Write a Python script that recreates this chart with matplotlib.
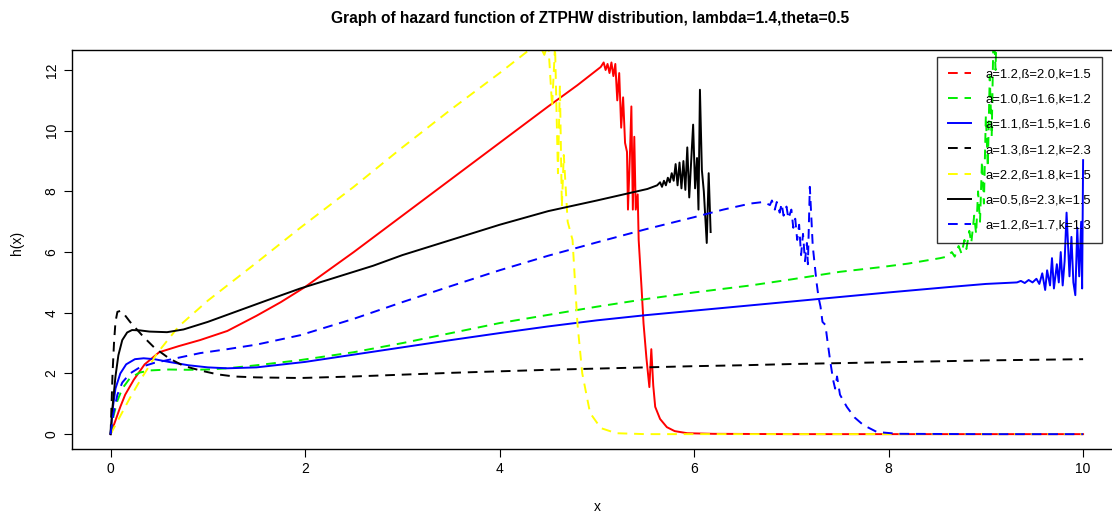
import matplotlib
matplotlib.use("Agg")
import matplotlib.pyplot as plt
from matplotlib.lines import Line2D

plt.rcParams['font.family'] = ['Liberation Sans', 'DejaVu Sans']

# Data
red_x = [0, 0.05, 0.1, 0.15, 0.24, 0.35, 0.5, 0.7, 0.92, 1.2, 1.5, 1.75, 2.0, 2.5, 3.0, 3.5, 4.0, 4.5, 4.8, 5.0,
         5.04, 5.07, 5.09, 5.11, 5.13, 5.15, 5.17, 5.19, 5.21, 5.23, 5.25, 5.27, 5.29, 5.31, 5.32, 5.34, 5.355,
         5.37, 5.385, 5.40, 5.42, 5.43, 5.46, 5.48, 5.51, 5.54, 5.56, 5.58, 5.6, 5.65, 5.72, 5.8, 5.93, 6.2,
         7, 8, 9, 10]
red_y = [0, 0.45, 0.9, 1.3, 1.8, 2.3, 2.7, 2.9, 3.1, 3.4, 3.9, 4.35, 4.85, 6.0, 7.2, 8.4, 9.6, 10.8, 11.5, 12.0,
         12.1, 12.25, 12.0, 12.2, 11.9, 12.25, 11.8, 12.2, 11.0, 11.9, 10.1, 11.1, 9.6, 9.3, 7.4, 9.2, 10.8,
         7.4, 9.8, 7.4, 7.9, 6.4, 4.8, 3.65, 2.5, 1.55, 2.8, 1.6, 0.9, 0.5, 0.23, 0.1, 0.03, 0.01,
         0, 0, 0, 0]

green_x = [0, 0.03, 0.07, 0.12, 0.2, 0.3, 0.41, 0.6, 0.8, 1.0, 1.2, 1.5, 1.95, 2.5, 3.0, 3.5, 4.0, 4.5, 5.0,
           5.5, 6.0, 6.58, 7.0, 7.5, 7.91, 8.2, 8.53, 8.6, 8.65, 8.68, 8.72, 8.75, 8.78, 8.8, 8.83, 8.85, 8.88,
           8.9, 8.92, 8.94, 8.96, 8.98, 9.0, 9.02, 9.04, 9.06, 9.08, 9.1, 9.13, 9.16]
green_y = [0, 0.6, 1.1, 1.5, 1.85, 2.03, 2.1, 2.13, 2.12, 2.13, 2.17, 2.27, 2.44, 2.7, 3.0, 3.33, 3.66, 3.93, 4.2,
           4.45, 4.67, 4.9, 5.1, 5.35, 5.5, 5.62, 5.8, 5.85, 6.0, 5.85, 6.2, 5.95, 6.4, 6.1, 6.7, 6.3, 7.2,
           6.6, 8.0, 7.0, 9.0, 7.6, 10.5, 8.8, 11.8, 9.8, 13.5, 12.0, 16, 25]

blue_x = [0, 0.02, 0.05, 0.1, 0.16, 0.25, 0.34, 0.45, 0.6, 0.8, 1.0, 1.2, 1.5, 2.0, 2.5, 3.0, 3.5, 4.0, 4.5,
          5.0, 5.5, 6.0, 6.5, 7.0, 7.5, 8.0, 8.63, 9.0, 9.32, 9.36, 9.4, 9.44, 9.48, 9.52, 9.55, 9.58, 9.61,
          9.63, 9.66, 9.68, 9.7, 9.73, 9.75, 9.77, 9.79, 9.81, 9.83, 9.86, 9.88, 9.9, 9.92, 9.94, 9.96, 9.98,
          9.99, 10.0]
blue_y = [0, 0.8, 1.5, 2.0, 2.3, 2.47, 2.5, 2.47, 2.38, 2.27, 2.2, 2.17, 2.2, 2.38, 2.62, 2.86, 3.1, 3.33, 3.55,
          3.75, 3.92, 4.07, 4.22, 4.37, 4.52, 4.67, 4.85, 4.95, 5.0, 5.05, 4.98, 5.08, 5.0, 5.12, 4.95, 5.3, 4.75,
          5.4, 4.9, 5.8, 4.8, 5.6, 5.0, 6.0, 4.9, 5.7, 7.3, 5.2, 6.5, 5.0, 4.58, 6.8, 5.2, 7.0,
          4.8, 9.03]

black_dash_x = [0, 0.01, 0.02, 0.035, 0.05, 0.07, 0.1, 0.14, 0.2, 0.27, 0.34, 0.45, 0.6, 0.75, 0.92, 1.1, 1.27,
                1.5, 1.95, 2.5, 3.0, 3.5, 4.0, 4.5, 5.0, 5.5, 6.0, 6.5, 7.0, 7.5, 8.0, 8.5, 9.0, 9.5, 10.0]
black_dash_y = [0, 1.0, 2.0, 3.0, 3.7, 4.03, 4.06, 3.95, 3.7, 3.45, 3.2, 2.85, 2.5, 2.25, 2.1, 1.97, 1.9,
                1.87, 1.85, 1.9, 1.96, 2.02, 2.07, 2.12, 2.16, 2.2, 2.24, 2.27, 2.31, 2.34, 2.37, 2.4, 2.43, 2.45,
                2.47]

yellow_x = [0, 0.1, 0.2, 0.3, 0.48, 0.7, 1.0, 1.5, 1.95, 2.5, 3.0, 3.5, 4.0, 4.28, 4.4, 4.46, 4.5, 4.54, 4.57,
            4.6, 4.62, 4.64, 4.66, 4.7, 4.75, 4.8, 4.85, 4.93, 5.04, 5.2, 5.5, 6, 7, 8, 9, 10]
yellow_y = [0, 0.6, 1.2, 1.75, 2.67, 3.55, 4.4, 5.65, 6.8, 8.15, 9.45, 10.7, 11.9, 12.6, 12.9, 12.5, 12.9, 10.8,
            12.8, 8.6, 11.5, 7.5, 9.2, 7.0, 6.4, 3.66, 2.0, 0.7, 0.2, 0.03, 0, 0, 0, 0, 0, 0]

black_x = [0, 0.02, 0.05, 0.08, 0.12, 0.17, 0.22, 0.3, 0.4, 0.58, 0.75, 1.0, 1.3, 1.6, 1.95, 2.3, 2.7, 3.0, 3.5,
           4.0, 4.5, 5.0, 5.52, 5.62, 5.65, 5.67, 5.69, 5.71, 5.73, 5.75, 5.77, 5.79, 5.81, 5.83, 5.85, 5.87,
           5.89, 5.91, 5.93, 5.95, 5.97, 5.99, 6.01, 6.03, 6.045, 6.06, 6.08, 6.10, 6.13, 6.15, 6.17]
black_y = [0, 0.9, 1.9, 2.6, 3.1, 3.35, 3.43, 3.42, 3.38, 3.36, 3.45, 3.7, 4.05, 4.4, 4.8, 5.15, 5.55, 5.9, 6.4,
           6.9, 7.35, 7.7, 8.08, 8.2, 8.3, 8.15, 8.35, 8.2, 8.45, 8.3, 8.6, 8.35, 8.9, 8.2, 8.95, 8.1,
           9.0, 8.05, 9.45, 7.8, 9.0, 10.2, 8.1, 9.1, 7.4, 11.35, 8.7, 8.0, 6.3, 8.6, 6.66]

bdash_x = [0, 0.03, 0.07, 0.12, 0.2, 0.3, 0.45, 0.6, 0.92, 1.2, 1.5, 1.95, 2.5, 3.0, 3.5, 4.0, 4.5, 5.0, 5.5,
           6.0, 6.3, 6.58, 6.71, 6.78, 6.8, 6.83, 6.85, 6.88, 6.9, 6.92, 6.95, 6.97, 7.0, 7.02, 7.04, 7.06,
           7.08, 7.1, 7.12, 7.14, 7.16, 7.17, 7.19, 7.22, 7.26, 7.28, 7.3, 7.32, 7.35, 7.37, 7.4, 7.43, 7.45,
           7.47, 7.5, 7.57, 7.65, 7.74, 7.88, 8.1, 9, 10]
bdash_y = [0, 0.7, 1.3, 1.7, 2.0, 2.2, 2.35, 2.45, 2.67, 2.8, 2.95, 3.26, 3.8, 4.35, 4.88, 5.4, 5.88, 6.32, 6.75,
           7.15, 7.4, 7.6, 7.65, 7.55, 7.7, 7.4, 7.65, 7.3, 7.6, 7.2, 7.5, 7.1, 7.4, 6.8, 7.1, 6.4,
           6.9, 5.9, 6.6, 5.7, 6.3, 5.6, 8.15, 6.2, 4.98, 4.5, 4.2, 3.7, 3.6, 3.1, 2.4, 1.78, 1.5,
           1.9, 1.3, 0.9, 0.55, 0.3, 0.07, 0.01, 0, 0]

labels = ["a=1.2,ß=2.0,k=1.5", "a=1.0,ß=1.6,k=1.2", "a=1.1,ß=1.5,k=1.6", "a=1.3,ß=1.2,k=2.3",
          "a=2.2,ß=1.8,k=1.5", "a=0.5,ß=2.3,k=1.5", "a=1.2,ß=1.7,k=1.3"]

dash = (5, 3.5)
lw = 1.4

fig = plt.figure(figsize=(11.12, 5.16), dpi=100)
ax = fig.add_axes([71.7 / 1112, 1 - 449 / 516, 1050.3 / 1112, 399 / 516])

ax.plot(red_x, red_y, color="red", lw=lw)
ax.plot(green_x, green_y, color="#00ee00", lw=lw, dashes=dash)
ax.plot(blue_x, blue_y, color="blue", lw=lw)
ax.plot(black_dash_x, black_dash_y, color="black", lw=lw, dashes=dash)
ax.plot(yellow_x, yellow_y, color="yellow", lw=lw, dashes=dash)
ax.plot(black_x, black_y, color="black", lw=lw)
ax.plot(bdash_x, bdash_y, color="blue", lw=lw, dashes=dash)

ax.set_xlim(-0.4, 10.4)
ax.set_ylim(-0.49, 12.66)
ax.set_xticks([0, 2, 4, 6, 8, 10])
ax.set_yticks([0, 2, 4, 6, 8, 10, 12])
ax.tick_params(length=5.5, width=0.8, labelsize=10, pad=4)
for t in ax.get_yticklabels():
    t.set_rotation(90)
    t.set_va("center")
for s in ax.spines.values():
    s.set_linewidth(1.0)

ax.set_xlabel("x", fontsize=10)
ax.xaxis.set_label_coords(0.5, -0.145)
ax.xaxis.label.set_va("center")
ax.set_ylabel("h(x)", fontsize=10)
ax.yaxis.set_label_coords(-0.052, 0.516)
ax.yaxis.label.set_va("center")

fig.text(590 / 1112, 1 - 18 / 516, "Graph of hazard function of ZTPHW distribution, lambda=1.4,theta=0.5",
         ha="center", va="center", fontsize=11.2, fontweight="bold")

# Legend (first entry drawn dashed, as in the original); box is see-through
styles = [("red", dash), ("#00ee00", dash), ("blue", None), ("black", dash),
          ("yellow", dash), ("black", None), ("blue", dash)]
handles = []
for c, d in styles:
    if d is None:
        handles.append(Line2D([], [], color=c, lw=lw))
    else:
        handles.append(Line2D([], [], color=c, lw=lw, dashes=d))
leg = ax.legend(handles, labels, loc="upper right", bbox_to_anchor=(0.981, 0.982), fontsize=9.4,
                fancybox=False, edgecolor="black", facecolor="none", borderpad=0.85, labelspacing=1.0,
                handlelength=1.77, handletextpad=1.08, borderaxespad=0)
leg.get_frame().set_linewidth(1.0)

fig.savefig("out.png", dpi=100)
